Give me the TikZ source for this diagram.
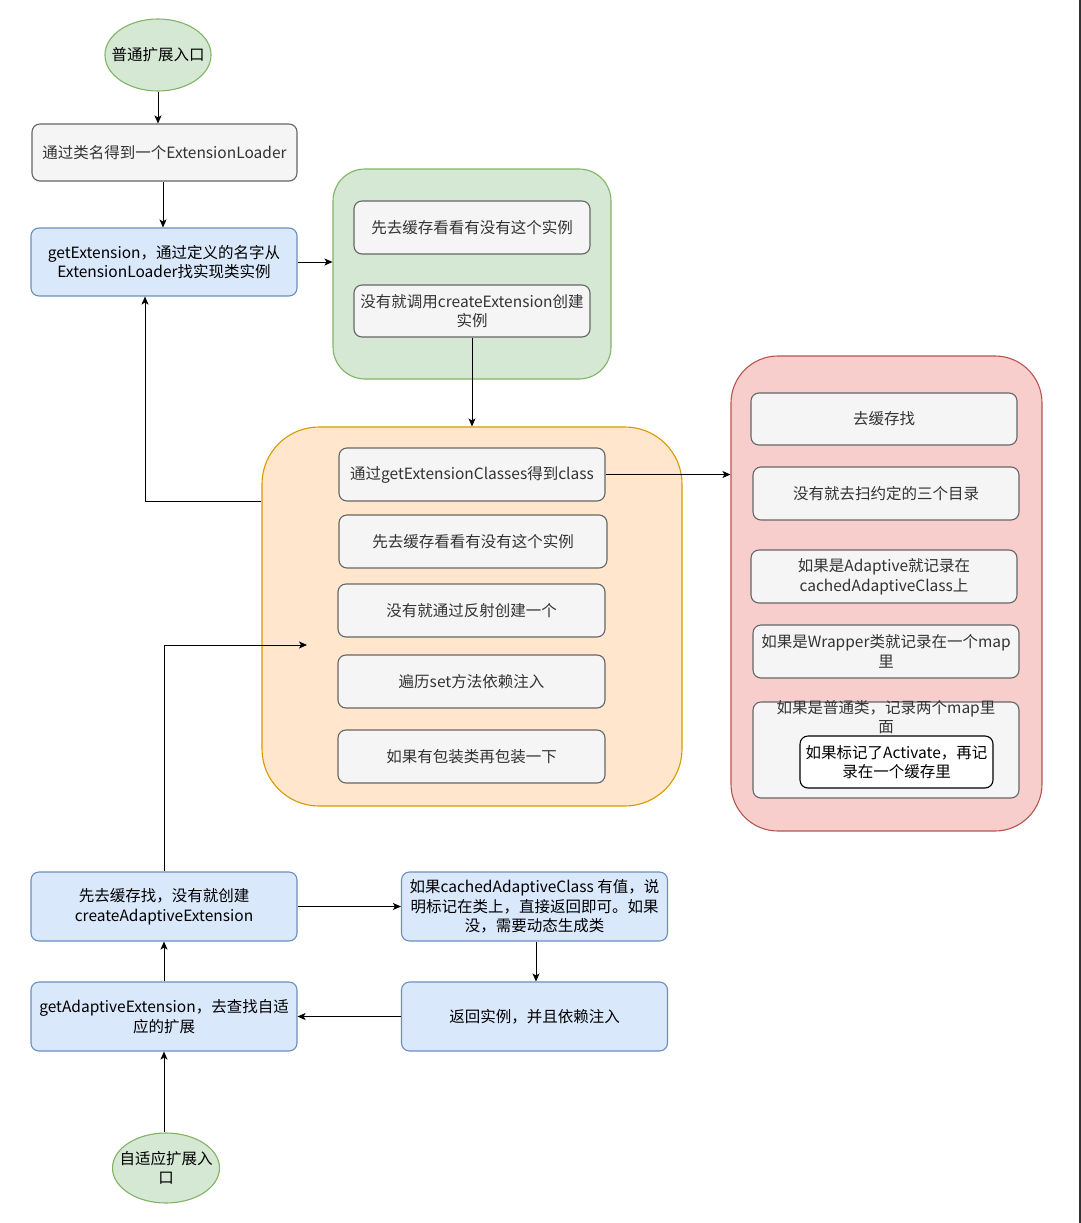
\documentclass[tikz,border=0pt]{standalone}
\usepackage{fontspec}
\setmainfont{Noto Sans CJK SC}
\usetikzlibrary{shapes.geometric,arrows.meta}
\definecolor{grayF}{HTML}{F5F5F5}
\definecolor{grayD}{HTML}{666666}
\definecolor{grayT}{HTML}{333333}
\definecolor{blueF}{HTML}{DAE8FC}
\definecolor{blueD}{HTML}{6C8EBF}
\definecolor{greenF}{HTML}{D5E8D4}
\definecolor{greenD}{HTML}{82B366}
\definecolor{orangeF}{HTML}{FFE6CC}
\definecolor{orangeD}{HTML}{D79B00}
\definecolor{redF}{HTML}{F8CECC}
\definecolor{redD}{HTML}{B85450}
\tikzset{
  txt/.style={font=\fontsize{15.5}{19.5}\selectfont, align=center, inner sep=0pt},
  bx/.style={txt, rectangle, rounded corners=8pt, line width=1.1pt},
  graybox/.style={bx, fill=grayF, draw=grayD, text=grayT},
  bluebox/.style={bx, fill=blueF, draw=blueD, text=black},
  whitebox/.style={bx, fill=white, draw=black, text=black},
  entry/.style={txt, ellipse, fill=greenF, draw=greenD, line width=1.1pt, text=black, inner xsep=-9pt, inner ysep=0pt},
  greencont/.style={rectangle, rounded corners=32pt, fill=greenF, draw=greenD, line width=1.1pt},
  orangecont/.style={rectangle, rounded corners=57pt, fill=orangeF, draw=orangeD, line width=1.1pt},
  redcont/.style={rectangle, rounded corners=47pt, fill=redF, draw=redD, line width=1.1pt},
  arr/.style={draw=black, line width=0.9pt, -{Stealth[length=8pt,width=7pt,inset=2pt]}}
}
\begin{document}
\begin{tikzpicture}[x=1pt,y=-1pt]
\useasboundingbox (0,0) rectangle (1081,1223);
\fill[white] (0,0) rectangle (1081,1223);
\draw[line width=2pt, color=grayT] (1080,0) -- (1080,1223);

% containers
\node[greencont, minimum width=278pt, minimum height=210pt] (G) at (472,274) {};
\node[orangecont, minimum width=420pt, minimum height=379pt] (O) at (472,616.5) {};
\node[redcont, minimum width=311pt, minimum height=475pt] (R) at (886.5,593.5) {};

% top column
\node[entry, minimum width=106pt, minimum height=72pt] (e1) at (158,55) {普通扩展入口};
\node[graybox, minimum width=265pt, minimum height=57pt] (n1) at (164.5,152.5) {通过类名得到一个ExtensionLoader};
\node[bluebox, minimum width=266pt, minimum height=68pt] (n2) at (164,262) {getExtension，通过定义的名字从\\ExtensionLoader找实现类实例};

% green inner
\node[graybox, minimum width=236pt, minimum height=53pt] (g1) at (472,227.5) {先去缓存看看有没有这个实例};
\node[graybox, minimum width=236pt, minimum height=52pt] (g2) at (472,311) {没有就调用createExtension创建\\实例};

% orange inner
\node[graybox, minimum width=266pt, minimum height=53pt] (o1) at (472,474.5) {通过getExtensionClasses得到class};
\node[graybox, minimum width=268pt, minimum height=53pt] (o2) at (473,541.5) {先去缓存看看有没有这个实例};
\node[graybox, minimum width=267pt, minimum height=53pt] (o3) at (471.5,610.5) {没有就通过反射创建一个};
\node[graybox, minimum width=267pt, minimum height=53pt] (o4) at (471.5,681.5) {遍历set方法依赖注入};
\node[graybox, minimum width=267pt, minimum height=53pt] (o5) at (471.5,756.5) {如果有包装类再包装一下};

% red inner
\node[graybox, minimum width=266pt, minimum height=52pt] (r1) at (884,419) {去缓存找};
\node[graybox, minimum width=266pt, minimum height=53pt] (r2) at (886,493.5) {没有就去扫约定的三个目录};
\node[graybox, minimum width=266pt, minimum height=53pt] (r3) at (884,576.5) {如果是Adaptive就记录在\\cachedAdaptiveClass上};
\node[graybox, minimum width=266pt, minimum height=53pt] (r4) at (886,651.5) {如果是Wrapper类就记录在一个map\\里};
\node[graybox, minimum width=266pt, minimum height=96pt] (r5) at (886,750) {};
\node[txt, text=grayT] (r5t) at (886,717) {如果是普通类，记录两个map里\\面};
\node[whitebox, minimum width=193pt, minimum height=52pt] (r6) at (896.5,762) {如果标记了Activate，再记\\录在一个缓存里};

% bottom part
\node[bluebox, minimum width=266pt, minimum height=69pt] (b1) at (164,906.5) {先去缓存找，没有就创建\\createAdaptiveExtension};
\node[bluebox, minimum width=266pt, minimum height=69pt] (b2) at (534.5,906.5) {如果cachedAdaptiveClass 有值，说\\明标记在类上，直接返回即可。如果\\没，需要动态生成类};
\node[bluebox, minimum width=266pt, minimum height=69pt] (b3) at (534.5,1016.5) {返回实例，并且依赖注入};
\node[bluebox, minimum width=266pt, minimum height=69pt] (b4) at (164,1016.5) {getAdaptiveExtension，去查找自适\\应的扩展};
\node[entry, minimum width=107pt, minimum height=70pt] (e2) at (166,1168) {自适应扩展入\\口};

\coordinate (oin) at (307,645);

% connectors
\draw[arr] (e1.south) -- (e1.south |- n1.north);
\draw[arr] ([xshift=-1.5pt]n1.south) -- ([xshift=-1pt]n2.north);
\draw[arr] (n2.east) -- (n2.east -| G.west);
\draw[arr] (g2.south) -- (g2.south |- O.north);
\draw[arr] (o1.south -| O.west) -| ([xshift=-19pt]n2.south);
\draw[arr] (o1.east) -- (o1.east -| R.west);
\draw[arr] (b1.north) |- (oin);
\draw[arr] (b1.east) -- (b2.west);
\draw[arr] ([xshift=1.5pt]b2.south) -- ([xshift=1.5pt]b3.north);
\draw[arr] (b3.west) -- (b4.east);
\draw[arr] (b4.north) -- (b1.south);
\draw[arr] (b4.south |- e2.north) -- (b4.south);
\end{tikzpicture}
\end{document}
